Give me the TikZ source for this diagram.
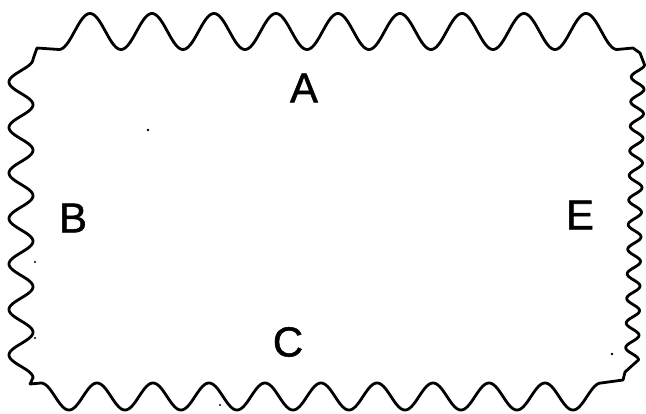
\documentclass[tikz,border=0pt]{standalone}
\usepackage{fontspec}
\setmainfont{Liberation Sans}
\newfontfamily\lblfont{Liberation Sans}[FakeBold=1.2]
\begin{document}
\begin{tikzpicture}[x=1pt,y=-1pt,
  outline/.style={line width=2.8pt, line join=round, line cap=round},
  lbl/.style={font=\lblfont\fontsize{42}{42}\selectfont, inner sep=0pt},
  speck/.style={fill=black}]
\useasboundingbox (0,0) rectangle (646,413);
\draw[outline] (37,48) -- (59,49.5)
  -- plot[domain=59:617, samples=400, variable=\t] (\t, {31.5-18*cos((\t-90)/62*360)})
  -- (633,48) -- (640,53)
  -- plot[domain=64.7:359.9, samples=400, variable=\t] ({638-(\t-64.7)/295.2*6-6.5*cos((\t-77)/24.6*360)}, \t)
  -- (625,372) -- (623,380) -- (601,383)
  -- plot[domain=41:601, samples=400, variable=\t] ({642-\t}, {396.5-13.5*cos((642-\t-41)/56*360)})
  -- (30,384)
  -- plot[domain=0:318.5, samples=300, variable=\t] ({21-12*cos((377.75-\t-82)/45.5*360)}, {377.75-\t})
  -- cycle;
\node[lbl] (A) at (304,88) {A};
\node[lbl] (B) at (73,218) {B};
\node[lbl] (C) at (288,342) {C};
\node[lbl] (E) at (580,215) {E};
\fill[speck] (148,130) circle (1.3pt);
\fill[speck] (35,262) circle (1.1pt);
\fill[speck] (35,338) circle (1.1pt);
\fill[speck] (612,354) circle (1.4pt);
\fill[speck] (220,405) circle (1.1pt);
\end{tikzpicture}
\end{document}
